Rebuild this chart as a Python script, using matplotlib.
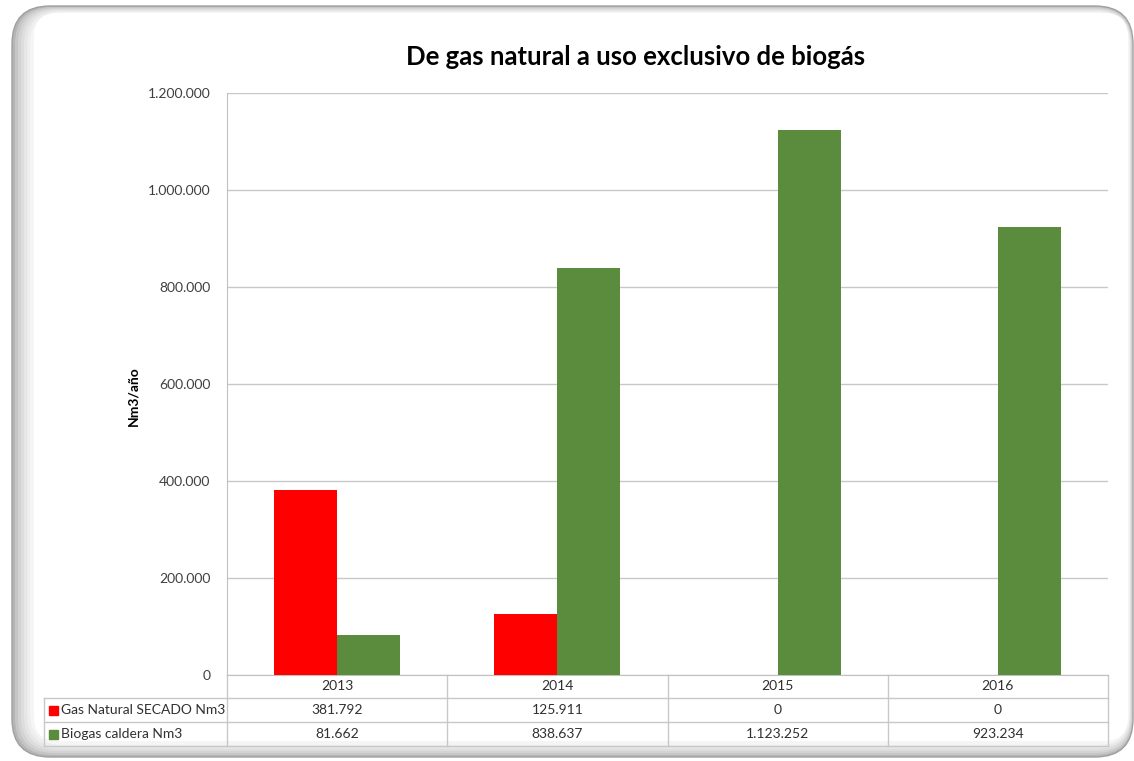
import matplotlib.pyplot as plt
from matplotlib.patches import FancyBboxPatch, Rectangle
from matplotlib.ticker import FuncFormatter
import numpy as np

plt.rcParams['font.family'] = ['Lato', 'DejaVu Sans']

# data
years = ['2013', '2014', '2015', '2016']
gas_natural = [381792, 125911, 0, 0]
biogas = [81662, 838637, 1123252, 923234]
series_names = ['Gas Natural SECADO Nm3', 'Biogas caldera Nm3']
colors = ['#ff0000', '#5b8b3c']
title = 'De gas natural a uso exclusivo de biogás'
ylabel = 'Nm3/año'


def fmt(v):
    return f'{int(v):,}'.replace(',', '.')


fig = plt.figure(figsize=(11.34, 7.61), dpi=100)

# background frame (pixel coords)
bg = fig.add_axes([0, 0, 1, 1], zorder=-1)
bg.set_xlim(0, 1134)
bg.set_ylim(761, 0)
bg.axis('off')
shades = ['#b5b5b5', '#c6c6c6', '#d3d3d3', '#dddddd', '#e6e6e6', '#eeeeee', '#f5f5f5']
for i, c in enumerate(shades):
    l, t, r, b = 12 + 3 * i, 6 + 1 * i, 1133 - 0.6 * i, 757 - 2 * i
    bg.add_patch(FancyBboxPatch((l, t), r - l, b - t,
                                boxstyle='round,pad=0,rounding_size=%d' % (38 - i),
                                fc=c, ec='#a0a0a0' if i == 0 else 'none', lw=1))
bg.add_patch(FancyBboxPatch((34, 13), 1128 - 34, 741 - 13,
                            boxstyle='round,pad=0,rounding_size=24',
                            fc='white', ec='none'))

# main axes
ax = fig.add_axes([227 / 1134, 1 - 675 / 761, 881 / 1134, 582 / 761])
x = np.arange(len(years))
w = 0.286
ax.bar(x - w / 2, gas_natural, w, color=colors[0], zorder=3)
ax.bar(x + w / 2, biogas, w, color=colors[1], zorder=3)

ax.set_xlim(-0.5, len(years) - 0.5)
ax.set_ylim(0, 1200000)
ax.set_yticks(np.arange(0, 1200001, 200000))
ax.yaxis.set_major_formatter(FuncFormatter(lambda v, p: fmt(v)))
ax.grid(axis='y', color='#c8c8c8', lw=1, zorder=0)
ax.set_xticks([])
ax.tick_params(axis='y', length=0, pad=12, labelsize=10, labelcolor='#404040')
for s in ['top', 'right']:
    ax.spines[s].set_visible(False)
ax.spines['left'].set_color('#c0c0c0')
ax.spines['bottom'].set_color('#c0c0c0')

# data table below axes
tr = ax.transAxes
grey = '#c8c8c8'
rows = [0, -23 / 582, -47 / 582, -71 / 582]
left = (44 - 227) / 881
for yv in rows[1:]:
    ax.plot([left, 1], [yv, yv], color=grey, lw=1, transform=tr, clip_on=False)
for i in range(len(years) + 1):
    xb = i / len(years)
    ax.plot([xb, xb], [0, rows[-1]], color=grey, lw=1, transform=tr, clip_on=False)
ax.plot([left, left], [rows[1], rows[-1]], color=grey, lw=1, transform=tr, clip_on=False)

for i, yr in enumerate(years):
    xc = (i + 0.5) / len(years)
    ax.text(xc, (rows[0] + rows[1]) / 2, yr, transform=tr, ha='center', va='center',
            fontsize=10, color='#303030')
    for j, vals in enumerate([gas_natural, biogas]):
        ax.text(xc, (rows[j + 1] + rows[j + 2]) / 2, fmt(vals[i]), transform=tr,
                ha='center', va='center', fontsize=10, color='#303030')

for j, name in enumerate(series_names):
    yc = (rows[j + 1] + rows[j + 2]) / 2
    ax.add_patch(Rectangle(((49 - 227) / 881, yc - 4.5 / 582), 9 / 881, 9 / 582,
                           transform=tr, clip_on=False, color=colors[j]))
    ax.text((61 - 227) / 881, yc, name, transform=tr, ha='left', va='center',
            fontsize=10, color='#303030')

fig.text(636 / 1134, 1 - 57 / 761, title, ha='center', va='center',
         fontsize=18.5, fontweight='bold', color='black')
fig.text(133 / 1134, 1 - 396 / 761, ylabel, ha='center', va='center',
         rotation=90, fontsize=10, fontweight='bold', color='black')

fig.savefig('out.png', dpi=100)
